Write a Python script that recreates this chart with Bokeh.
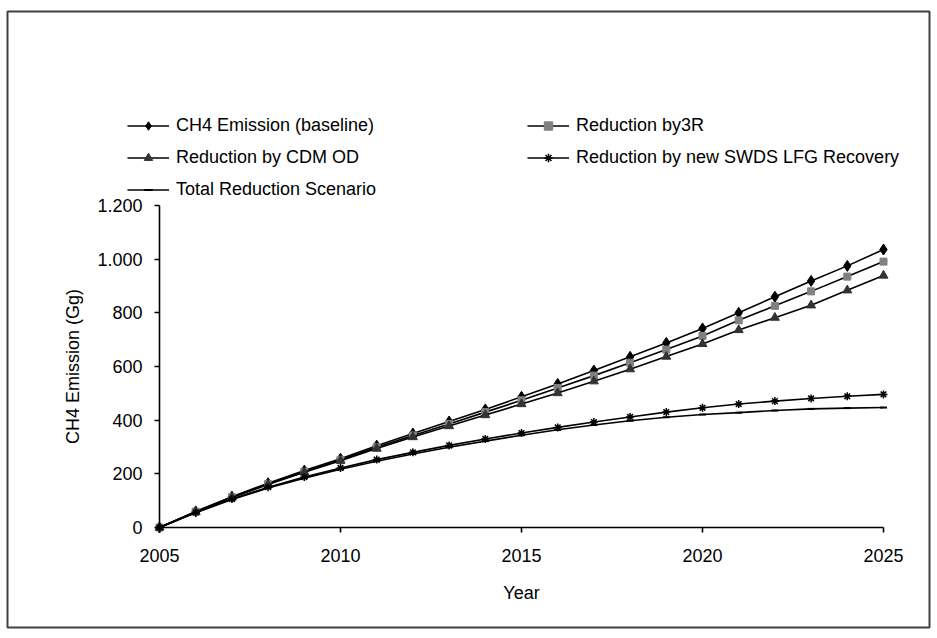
from bokeh.plotting import figure
from bokeh.models import Range1d, FixedTicker, Legend, LegendItem, BoxAnnotation
from bokeh.embed import file_html
from bokeh.resources import INLINE

# ---- data ----
years = list(range(2005, 2026))
baseline = [0, 60, 115, 165, 212, 256, 305, 350, 395, 440, 487, 535, 585, 636, 688, 742, 800, 860, 919, 975, 1036]
reduction_3r = [0, 59, 113, 162, 208, 252, 299, 343, 386, 430, 474, 520, 566, 614, 663, 714, 772, 826, 880, 935, 991]
reduction_cdm = [0, 58, 112, 160, 206, 249, 294, 337, 378, 419, 460, 501, 545, 590, 637, 684, 736, 782, 828, 884, 939]
reduction_swds = [0, 56, 106, 150, 188, 222, 253, 280, 306, 330, 352, 373, 393, 412, 430, 446, 460, 471, 481, 489, 496]
total = [0, 55, 104, 147, 184, 217, 247, 274, 299, 322, 344, 364, 382, 398, 411, 421, 428, 436, 442, 445, 447]

x_ticks = [2005, 2010, 2015, 2020, 2025]
y_ticks = [0, 200, 400, 600, 800, 1000, 1200]
y_tick_labels = ["0", "200", "400", "600", "800", "1.000", "1.200"]

# ---- layout (pixels) ----
W, H = 935, 636
X0_PX, X1_PX = 159, 883     # where the x axis starts / ends
Y0_PX, Y1_PX = 527, 205     # where the y axis starts / ends
XMIN, XMAX, YMIN, YMAX = 2005, 2025, 0, 1200
sx = (X1_PX - X0_PX) / (XMAX - XMIN)
sy = (Y0_PX - Y1_PX) / (YMAX - YMIN)
x_start = XMIN - X0_PX / sx
x_end = x_start + W / sx
y_top = YMAX + Y1_PX / sy
y_bottom = y_top - H / sy

def px2x(px):
    return x_start + px / sx

def py2y(py):
    return y_top - py / sy

FONT = "Liberation Sans"
FS = "18px"

p = figure(width=W, height=H, output_backend="svg", toolbar_location=None, title=None,
           x_range=Range1d(x_start, x_end), y_range=Range1d(y_bottom, y_top),
           min_border=0, min_border_left=0, min_border_right=0, min_border_top=0, min_border_bottom=0)
p.outline_line_color = None
p.xgrid.visible = False
p.ygrid.visible = False

for ax in (p.xaxis[0], p.yaxis[0]):
    ax.axis_line_color = "black"
    ax.axis_line_width = 1.6
    ax.major_tick_line_color = "black"
    ax.major_tick_line_width = 1.6
    ax.major_tick_in = 0
    ax.major_tick_out = 5
    ax.minor_tick_line_color = None
    ax.major_label_text_font = FONT
    ax.major_label_text_font_size = FS
    ax.major_label_text_color = "black"
    ax.axis_label_text_font = FONT
    ax.axis_label_text_font_size = FS
    ax.axis_label_text_font_style = "normal"
    ax.axis_label_text_color = "black"

xa = p.xaxis[0]
xa.fixed_location = YMIN
xa.bounds = (XMIN, XMAX)
xa.ticker = FixedTicker(ticks=x_ticks)
xa.axis_label = "Year"
xa.major_label_standoff = 16
xa.axis_label_standoff = 18

ya = p.yaxis[0]
ya.fixed_location = XMIN
ya.bounds = (YMIN, YMAX)
ya.ticker = FixedTicker(ticks=y_ticks)
ya.major_label_overrides = {t: l for t, l in zip(y_ticks, y_tick_labels)}
ya.axis_label = "CH4 Emission (Gg)"
ya.major_label_standoff = 12
ya.axis_label_standoff = 11

# chart border
p.add_layout(BoxAnnotation(left=px2x(7), right=px2x(929), top=py2y(11), bottom=py2y(627),
                           fill_color=None, fill_alpha=0, line_color="#404040",
                           line_alpha=1.0, line_width=2))

lw = 1.6
l1 = p.line(years, baseline, line_color="black", line_width=lw)
m1 = p.scatter(years, baseline, marker="diamond", size=11, fill_color="black", line_color="black")
l2 = p.line(years, reduction_3r, line_color="black", line_width=lw)
m2 = p.scatter(years, reduction_3r, marker="square", size=7, fill_color="#808080", line_color="#808080")
l3 = p.line(years, reduction_cdm, line_color="black", line_width=lw)
m3 = p.scatter(years, reduction_cdm, marker="triangle", size=9, fill_color="#333333", line_color="#333333")
l4 = p.line(years, reduction_swds, line_color="black", line_width=lw)
m4 = p.scatter(years, reduction_swds, marker="asterisk", size=8, line_color="black", line_width=1.5)
l5 = p.line(years, total, line_color="black", line_width=lw)
m5 = p.scatter(years, total, marker="dash", size=7, line_color="black", line_width=2)

def add_legend(items, loc):
    lg = Legend(items=items, location=loc, orientation="vertical",
                padding=0, margin=0, spacing=11, glyph_width=42, glyph_height=21,
                label_height=21, label_standoff=7, label_text_font=FONT,
                label_text_font_size=FS, label_text_color="black",
                border_line_color=None, background_fill_alpha=0)
    p.add_layout(lg, "center")

add_legend([
    LegendItem(label="CH4 Emission (baseline)", renderers=[l1, m1]),
    LegendItem(label="Reduction by CDM OD", renderers=[l3, m3]),
    LegendItem(label="Total Reduction Scenario", renderers=[l5, m5]),
], (127, 436))
add_legend([
    LegendItem(label="Reduction by3R", renderers=[l2, m2]),
    LegendItem(label="Reduction by new SWDS LFG Recovery", renderers=[l4, m4]),
], (527, 468))

open("out.html", "w").write(file_html(p, INLINE))
